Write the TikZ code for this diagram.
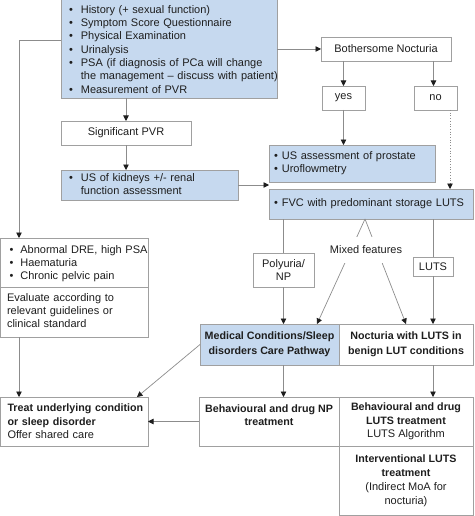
\documentclass[tikz,border=0pt]{standalone}
\usepackage{fontspec}
\setmainfont{Liberation Sans}
\usetikzlibrary{arrows.meta}
\definecolor{boxblue}{HTML}{C6D9EF}
\definecolor{edgegray}{HTML}{A0A0A0}
\definecolor{linegray}{HTML}{8C8C8C}
\definecolor{txt}{HTML}{1E1E1E}
\newcommand{\blist}[2]{\begin{tabular}{@{}l@{\hspace{#1}}l@{}}#2\end{tabular}}
\newcommand{\lcol}[1]{\begin{tabular}{@{}l@{}}#1\end{tabular}}
\newcommand{\bx}[1]{{\fontsize{10.7}{13.3}\selectfont\bfseries #1}}
\begin{document}
\begin{tikzpicture}[x=1pt,y=-1pt,
  every node/.style={font=\fontsize{11}{13.3}\selectfont, text=txt, inner sep=0pt, outer sep=0pt},
  box/.style={draw=edgegray, line width=0.7pt, anchor=north west},
  bluebox/.style={fill=boxblue},
  ln/.style={draw=linegray, line width=0.7pt},
  arr/.style={ln, -{Triangle[length=5.5pt,width=5.5pt,color=txt]}},
]
\useasboundingbox (0,0) rectangle (474,516);

% nodes
\node[box,bluebox,minimum width=216,minimum height=99,inner xsep=8pt,text width=200pt,align=left] (top) at (61,-1) {\blist{8pt}{%
\textbullet & \rule{0pt}{13.3pt}History (+ sexual function)\\
\textbullet & Symptom Score Questionnaire\\
\textbullet & Physical Examination\\
\textbullet & Urinalysis\\
\textbullet & PSA (if diagnosis of PCa will change\\
 & the management -- discuss with patient)\\
\textbullet & Measurement of PVR}};

\node[box,minimum width=130,minimum height=24] (sig) at (61,121) {Significant PVR};

\node[box,bluebox,minimum width=177,minimum height=30,inner xsep=8pt,text width=161pt,align=left] (kid) at (61,170) {\blist{8pt}{\textbullet & US of kidneys +/- renal\\ & function assessment}};

\node[box,minimum width=130,minimum height=24] (both) at (321,37) {Bothersome Nocturia};
\node[box,minimum width=43,minimum height=24] (yes) at (322,86) {yes};
\node[box,minimum width=43,minimum height=24] (no) at (414,86) {no};

\node[box,bluebox,minimum width=166,minimum height=37,inner xsep=5pt,text width=156pt,align=left] (us) at (269,145) {\blist{4pt}{\textbullet & US assessment of prostate\\ \textbullet & Uroflowmetry}};

\node[box,bluebox,minimum width=204,minimum height=30,inner xsep=5pt,text width=194pt,align=left] (fvc) at (269,189) {\blist{4pt}{\textbullet & FVC with predominant storage LUTS}};

\node[box,minimum width=61,minimum height=34,align=center] (poly) at (253,253) {Polyuria/\\NP};
\node[box,minimum width=40,minimum height=19] (luts) at (413,257) {LUTS};

\node[box,minimum width=147.5,minimum height=49,inner xsep=9pt,text width=129.5pt,align=left,font=\fontsize{11}{12.7}\selectfont] (dre) at (0.5,238) {\blist{7pt}{\textbullet & \rule{0pt}{11.5pt}Abnormal DRE, high PSA\\ \textbullet & Haematuria\\ \textbullet & Chronic pelvic pain}};

\node[box,minimum width=147.5,minimum height=50,inner xsep=6.5pt,text width=134.5pt,align=left] (eval) at (0.5,287) {\lcol{Evaluate according to\\relevant guidelines or\\clinical standard}};

\node[box,bluebox,minimum width=139,minimum height=41,align=center,font=\fontsize{10.7}{15}\selectfont\bfseries] (med) at (200,324) {Medical Conditions/Sleep\\disorders Care Pathway};
\node[box,minimum width=134,minimum height=41,align=center,font=\fontsize{10.7}{15}\selectfont\bfseries] (noct) at (339,324) {Nocturia with LUTS in\\benign LUT conditions};

\node[box,minimum width=140,minimum height=49,align=center,font=\fontsize{10.7}{13.3}\selectfont\bfseries] (bnp) at (199,397) {Behavioural and drug NP\\treatment\\\mbox{}};
\node[box,minimum width=134,minimum height=49,align=center] (blu) at (339,397) {\bx{Behavioural and drug}\\\bx{LUTS treatment}\\LUTS Algorithm};
\node[box,minimum width=134,minimum height=69.5,align=center,font=\fontsize{11}{14.3}\selectfont] (intv) at (339,446) {\bx{Interventional LUTS}\\\bx{treatment}\\(Indirect MoA for\\nocturia)};

\node[box,minimum width=147.5,minimum height=49,inner xsep=7pt,text width=133.5pt,align=left] (treat) at (0.5,397) {\lcol{\bx{\rule{0pt}{11.5pt}Treat underlying condition}\\\bx{or sleep disorder}\\Offer shared care}};

% connectors
\coordinate (L1) at (19,40);
\draw[arr] (top.west |- L1) -- (L1) -- (L1 |- dre.north);
\draw[arr] (eval.south -| L1) -- (L1 |- treat.north);
\draw[arr] (sig.north |- top.south) -- (sig.north);
\draw[arr] (sig.south) -- (sig.south |- kid.north);
\draw[arr] (kid.east) -- (kid.east -| fvc.west);
\draw[arr] (top.east |- both.west) -- (both.west);
\draw[arr] (yes.north |- both.south) -- (yes.north);
\coordinate (nx) at ([xshift=-2pt]no.north);
\draw[arr] (nx |- both.south) -- (nx);
\draw[arr] (yes.south) -- (yes.south |- us.north);
\coordinate (dx) at ([xshift=14.5pt]no.south);
\draw[arr,dotted] (dx) -- (dx |- fvc.north);
\draw[ln] (poly.north |- fvc.south) -- (poly.north);
\draw[arr] (poly.south) -- (poly.south |- med.north);
\draw[ln] (luts.north |- fvc.south) -- (luts.north);
\draw[arr] (luts.south) -- (luts.south |- noct.north);
\coordinate (mfa) at ([xshift=-6pt]fvc.south);
\coordinate (mfl) at ([xshift=-22pt]med.north east);
\draw[arr] (mfa) -- (mfl);
\draw[arr] (mfa) -- (noct.north);
\node[fill=white,minimum height=26,inner xsep=1pt] (mix) at (366,250) {Mixed features};
\draw[arr] (poly.south |- med.south) -- (poly.south |- bnp.north);
\draw[arr] (luts.south |- noct.south) -- (luts.south |- blu.north);
\draw[arr] (bnp.west) -- (bnp.west -| treat.east);
\coordinate (tt) at ([xshift=-11pt]treat.north east);
\draw[arr] (med.west) -- (tt);
\end{tikzpicture}
\end{document}
